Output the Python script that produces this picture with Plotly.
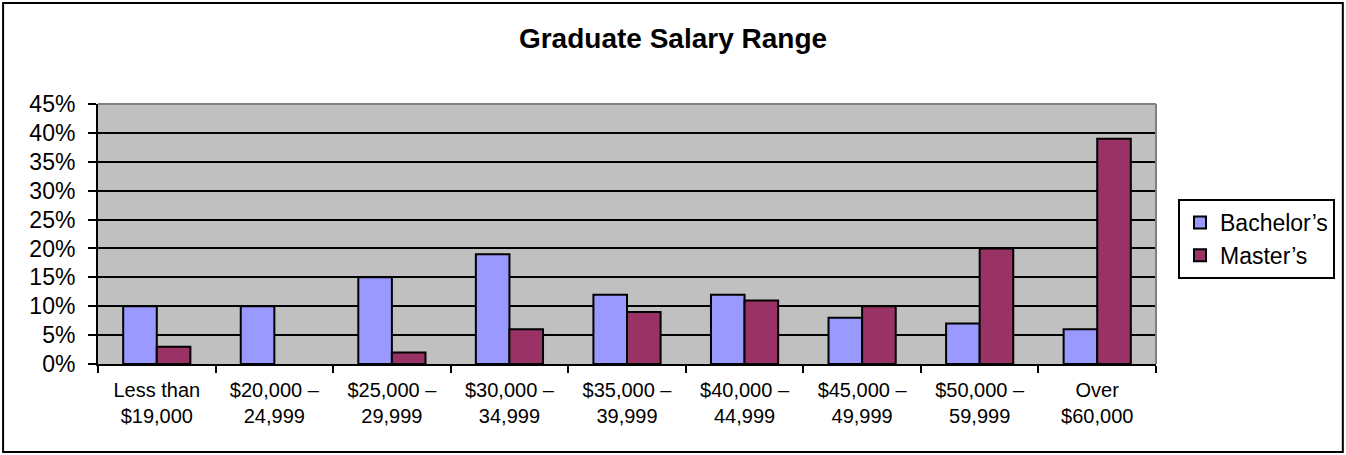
import plotly.graph_objects as go

categories = ["Less than<br>$19,000", "$20,000 –<br>24,999", "$25,000 –<br>29,999",
              "$30,000 –<br>34,999", "$35,000 –<br>39,999", "$40,000 –<br>44,999",
              "$45,000 –<br>49,999", "$50,000 –<br>59,999", "Over<br>$60,000"]
bachelors = [10, 10, 15, 19, 12, 12, 8, 7, 6]
masters = [3, None, 2, 6, 9, 11, 10, 20, 39]
y_ticks = [0, 5, 10, 15, 20, 25, 30, 35, 40, 45]
y_labels = [f"{v}%" for v in y_ticks]

W, H = 1346, 455
L, R, T, B = 98, 1157, 104, 364
pw, ph = R - L, B - T

def px(x):
    return (x - L) / pw

def py(y):
    return (B - y) / ph

fig = go.Figure()
fig.add_trace(go.Bar(name="Bachelor’s", x=categories, y=bachelors,
                     marker=dict(color="#9999FF", line=dict(color="black", width=2))))
fig.add_trace(go.Bar(name="Master’s", x=categories, y=masters,
                     marker=dict(color="#993366", line=dict(color="black", width=2))))

font = "Liberation Sans, Arial, sans-serif"
fig.update_layout(
    width=W, height=H,
    margin=dict(l=L, r=W - R, t=T, b=H - B, pad=0),
    paper_bgcolor="white", plot_bgcolor="#C0C0C0",
    barmode="group", bargap=1.5 / 3.5, bargroupgap=0,
    font=dict(family=font, color="black"),
    title=dict(text="<b>Graduate Salary Range</b>", x=0.5, xanchor="center",
               y=1 - 38 / H, yanchor="middle", font=dict(size=28, family=font)),
    legend=dict(x=px(1178), y=py(199), xanchor="left", yanchor="top",
                bordercolor="black", borderwidth=2, bgcolor="white",
                font=dict(size=23, family=font),
                itemwidth=30),
    showlegend=True,
)
fig.update_xaxes(showgrid=False, showline=True, linecolor="black", linewidth=2,
                 ticks="outside", tickson="boundaries", ticklen=7, tickwidth=2,
                 tickcolor="black", tickfont=dict(size=20, family=font),
                 ticklabelstandoff=7, fixedrange=True)
fig.update_yaxes(range=[0, 45], tickvals=y_ticks, ticktext=y_labels,
                 showgrid=True, gridcolor="black", gridwidth=1.5,
                 showline=True, linecolor="black", linewidth=2,
                 ticks="outside", ticklen=8, tickwidth=2, tickcolor="black",
                 tickfont=dict(size=23, family=font), ticklabelstandoff=8,
                 zeroline=False)

# gray top and right border of the plot area
fig.add_shape(type="line", xref="paper", yref="paper", x0=0, x1=1, y0=1, y1=1,
              line=dict(color="#808080", width=2))
fig.add_shape(type="line", xref="paper", yref="paper", x0=1, x1=1, y0=0, y1=1,
              line=dict(color="#808080", width=2))
# outer chart border
fig.add_shape(type="rect", xref="paper", yref="paper",
              x0=px(3), x1=px(1344), y0=py(452), y1=py(3),
              line=dict(color="black", width=2), fillcolor="rgba(0,0,0,0)")

fig.write_html("out.html", config={"displayModeBar": False},
               post_script="document.body.style.margin='0';")
